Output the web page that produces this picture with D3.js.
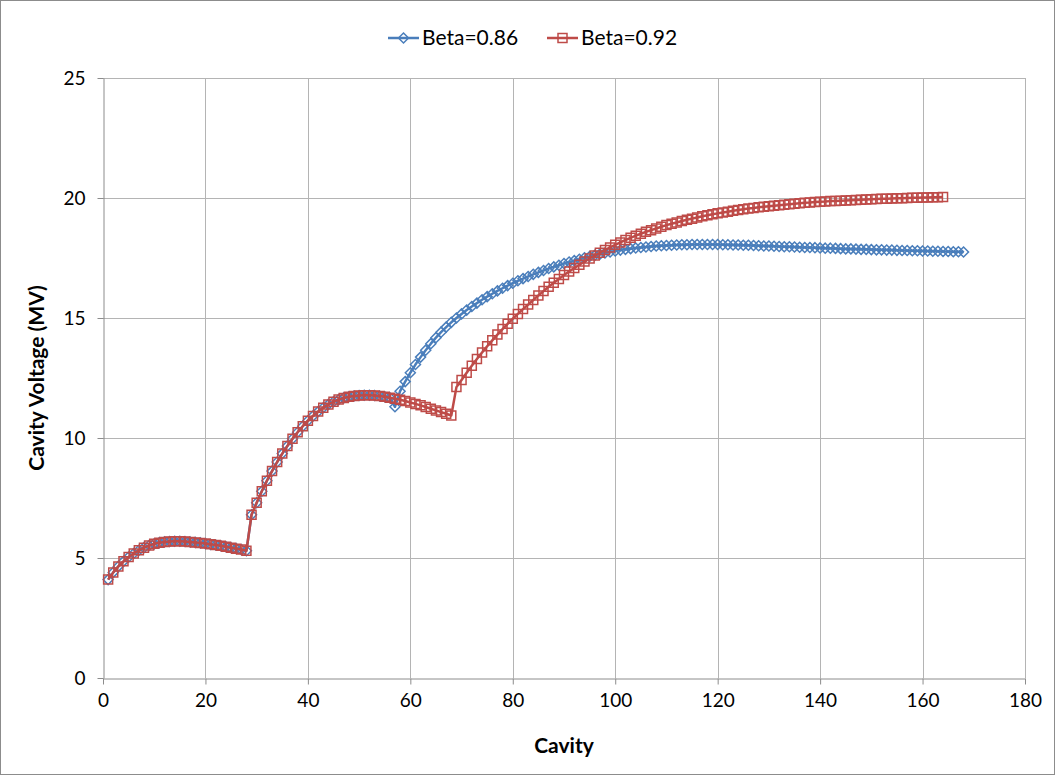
<!DOCTYPE html>
<html>
<head>
<meta charset="utf-8">
<script src="https://cdn.jsdelivr.net/npm/d3@7"></script>
<style>
html,body{margin:0;padding:0;background:#fff;}
svg{display:block;font-family:Lato,"Open Sans",sans-serif;}
</style>
</head>
<body>
<svg id="chart" width="1056" height="776"></svg>
<script>
// ---- data ----
const seriesNames = ["Beta=0.86", "Beta=0.92"];
const xTicks = [0, 20, 40, 60, 80, 100, 120, 140, 160, 180];
const yTicks = [0, 5, 10, 15, 20, 25];

// Cavity voltage (MV) for cavities 1..168, Beta=0.86
const voltageBeta086 = [
  4.10, 4.40, 4.65, 4.86, 5.04, 5.19, 5.32, 5.43, 5.52, 5.59,
  5.64, 5.67, 5.69, 5.70, 5.70, 5.69, 5.67, 5.65, 5.63, 5.60,
  5.57, 5.54, 5.51, 5.47, 5.43, 5.39, 5.35, 5.30,
  6.80, 7.30, 7.78, 8.22, 8.62, 9.00, 9.35, 9.67, 9.97, 10.24,
  10.49, 10.72, 10.92, 11.10, 11.26, 11.40, 11.51, 11.60, 11.67, 11.72,
  11.75, 11.77, 11.78, 11.78, 11.77, 11.75, 11.72, 11.68, 11.30,
  11.95, 12.35, 12.72, 13.06, 13.37, 13.66, 13.93, 14.18, 14.41, 14.62,
  14.82, 15.00, 15.17, 15.33, 15.48, 15.62, 15.76, 15.89, 16.01, 16.13,
  16.24, 16.35, 16.45, 16.55, 16.64, 16.73, 16.82, 16.90, 16.98, 17.06,
  17.13, 17.20, 17.27, 17.33, 17.39, 17.45, 17.51, 17.56, 17.61, 17.66,
  17.71, 17.75, 17.79, 17.83, 17.86, 17.89, 17.92, 17.94, 17.96, 17.98,
  18.00, 18.01, 18.02, 18.03, 18.04, 18.05, 18.05, 18.06, 18.06, 18.06,
  18.06, 18.06, 18.06, 18.05, 18.05, 18.04, 18.04, 18.03, 18.03, 18.02,
  18.01, 18.00, 18.00, 17.99, 17.98, 17.97, 17.97, 17.96, 17.95, 17.94,
  17.94, 17.93, 17.92, 17.91, 17.91, 17.90, 17.89, 17.88, 17.88, 17.87,
  17.86, 17.86, 17.85, 17.84, 17.84, 17.83, 17.83, 17.82, 17.81, 17.81,
  17.80, 17.80, 17.79, 17.79, 17.78, 17.78, 17.77, 17.77, 17.76, 17.76,
  17.75
];

// Cavity voltage (MV) for cavities 1..164, Beta=0.92
const voltageBeta092 = [
  4.10, 4.40, 4.65, 4.86, 5.04, 5.19, 5.32, 5.43, 5.52, 5.59,
  5.64, 5.67, 5.69, 5.70, 5.70, 5.69, 5.67, 5.65, 5.63, 5.60,
  5.57, 5.54, 5.51, 5.47, 5.43, 5.39, 5.35, 5.30,
  6.80, 7.30, 7.78, 8.22, 8.62, 9.00, 9.35, 9.67, 9.97, 10.24,
  10.49, 10.72, 10.92, 11.10, 11.26, 11.40, 11.51, 11.60, 11.67, 11.72,
  11.75, 11.77, 11.78, 11.78, 11.77, 11.75, 11.72, 11.68, 11.64, 11.59,
  11.54, 11.48, 11.42, 11.36, 11.29, 11.22, 11.15, 11.08, 11.01, 10.94,
  12.12, 12.42, 12.72, 13.01, 13.29, 13.56, 13.82, 14.07, 14.31, 14.54,
  14.76, 14.97, 15.17, 15.37, 15.56, 15.75, 15.94, 16.12, 16.30, 16.47,
  16.63, 16.79, 16.94, 17.08, 17.22, 17.35, 17.48, 17.60, 17.72, 17.83,
  17.94, 18.05, 18.15, 18.25, 18.34, 18.43, 18.51, 18.59, 18.66, 18.73,
  18.80, 18.87, 18.93, 18.98, 19.04, 19.09, 19.14, 19.19, 19.24, 19.28,
  19.32, 19.36, 19.40, 19.43, 19.47, 19.50, 19.53, 19.56, 19.58, 19.61,
  19.64, 19.66, 19.68, 19.70, 19.72, 19.74, 19.76, 19.78, 19.80, 19.81,
  19.83, 19.84, 19.85, 19.87, 19.88, 19.89, 19.90, 19.91, 19.92, 19.93,
  19.94, 19.95, 19.96, 19.97, 19.97, 19.98, 19.99, 19.99, 20.00, 20.01,
  20.01, 20.02, 20.02, 20.03, 20.03, 20.04
];

const colors = ["#4A7EBB", "#BE4B48"];

// ---- chart ----
const svg = d3.select("#chart");
const W = 1056, H = 776;
const plot = {left: 103, right: 1025, top: 78, bottom: 678};

const x = d3.scaleLinear().domain([0, 180]).range([plot.left, plot.right]);
const y = d3.scaleLinear().domain([0, 25]).range([plot.bottom, plot.top]);

svg.append("rect").attr("x", 0.5).attr("y", 0.5).attr("width", W - 2).attr("height", H - 2)
  .attr("fill", "#fff").attr("stroke", "#8c8c8c").attr("stroke-width", 1);

// gridlines
const grid = svg.append("g");
grid.selectAll("line.h").data(yTicks.filter(d => d > 0)).join("line")
  .attr("x1", plot.left).attr("x2", plot.right)
  .attr("y1", d => Math.round(y(d)) + 0.5).attr("y2", d => Math.round(y(d)) + 0.5)
  .attr("stroke", "#b4b4b4").attr("stroke-width", 1);
grid.selectAll("line.v").data(xTicks.filter(d => d > 0)).join("line")
  .attr("y1", plot.top).attr("y2", plot.bottom)
  .attr("x1", d => Math.round(x(d)) + 0.5).attr("x2", d => Math.round(x(d)) + 0.5)
  .attr("stroke", "#b4b4b4").attr("stroke-width", 1);

// axes
const xAxis = d3.axisBottom(x).tickValues(xTicks).tickSizeOuter(0).tickSizeInner(6).tickPadding(9).tickFormat(d3.format("d"));
const yAxis = d3.axisLeft(y).tickValues(yTicks).tickSizeOuter(0).tickSizeInner(6).tickPadding(12).tickFormat(d3.format("d"));

const gx = svg.append("g").attr("transform", `translate(0,${Math.round(y(0)) + 0.5})`).call(xAxis);
const gy = svg.append("g").attr("transform", `translate(${Math.round(x(0)) + 0.5},0)`).call(yAxis);
[gx, gy].forEach(g => {
  g.select(".domain").attr("stroke", "#8c8c8c");
  g.selectAll(".tick line").attr("stroke", "#8c8c8c");
  g.selectAll(".tick text").attr("fill", "#000").style("font-size", "19px")
    .style("font-family", "Lato, 'Open Sans', sans-serif");
});

// axis titles
svg.append("text").attr("x", (plot.left + plot.right) / 2).attr("y", 753)
  .attr("text-anchor", "middle").style("font-size", "21px").style("font-weight", "bold")
  .text("Cavity");
svg.append("text").attr("transform", `translate(44,${(plot.top + plot.bottom) / 2}) rotate(-90)`)
  .attr("text-anchor", "middle").style("font-size", "21px").style("font-weight", "bold")
  .text("Cavity Voltage (MV)");

// series
const series = [
  {name: seriesNames[0], values: voltageBeta086, color: colors[0], shape: "diamond"},
  {name: seriesNames[1], values: voltageBeta092, color: colors[1], shape: "square"}
];
const line = d3.line().x((d, i) => x(i + 1)).y(d => y(d));
const diamondPath = "M0,-5L5,0L0,5L-5,0Z";
const squarePath = "M-4.5,-4.5H4.5V4.5H-4.5Z";

series.forEach(s => {
  const g = svg.append("g");
  g.append("path").datum(s.values).attr("d", line)
    .attr("fill", "none").attr("stroke", s.color).attr("stroke-width", 2.5)
    .attr("stroke-linejoin", "round");
  g.selectAll("path.m").data(s.values).join("path").attr("class", "m")
    .attr("transform", (d, i) => `translate(${x(i + 1)},${y(d)})`)
    .attr("d", s.shape === "diamond" ? diamondPath : squarePath)
    .attr("fill", "none").attr("stroke", s.color).attr("stroke-width", 1.5);
});

// legend
const legendItems = [
  {name: seriesNames[0], color: colors[0], shape: "diamond", x0: 388},
  {name: seriesNames[1], color: colors[1], shape: "square", x0: 547}
];
const lg = svg.append("g");
legendItems.forEach(it => {
  const g = lg.append("g").attr("transform", `translate(${it.x0},38)`);
  g.append("line").attr("x1", 0).attr("x2", 31).attr("y1", 0).attr("y2", 0)
    .attr("stroke", it.color).attr("stroke-width", 2.5);
  g.append("path").attr("transform", "translate(15.5,0)")
    .attr("d", it.shape === "diamond" ? diamondPath : squarePath)
    .attr("fill", "none").attr("stroke", it.color).attr("stroke-width", 1.5);
  g.append("text").attr("x", 34).attr("y", 0).attr("dy", "0.35em")
    .style("font-size", "21px").text(it.name);
});
</script>
</body>
</html>
